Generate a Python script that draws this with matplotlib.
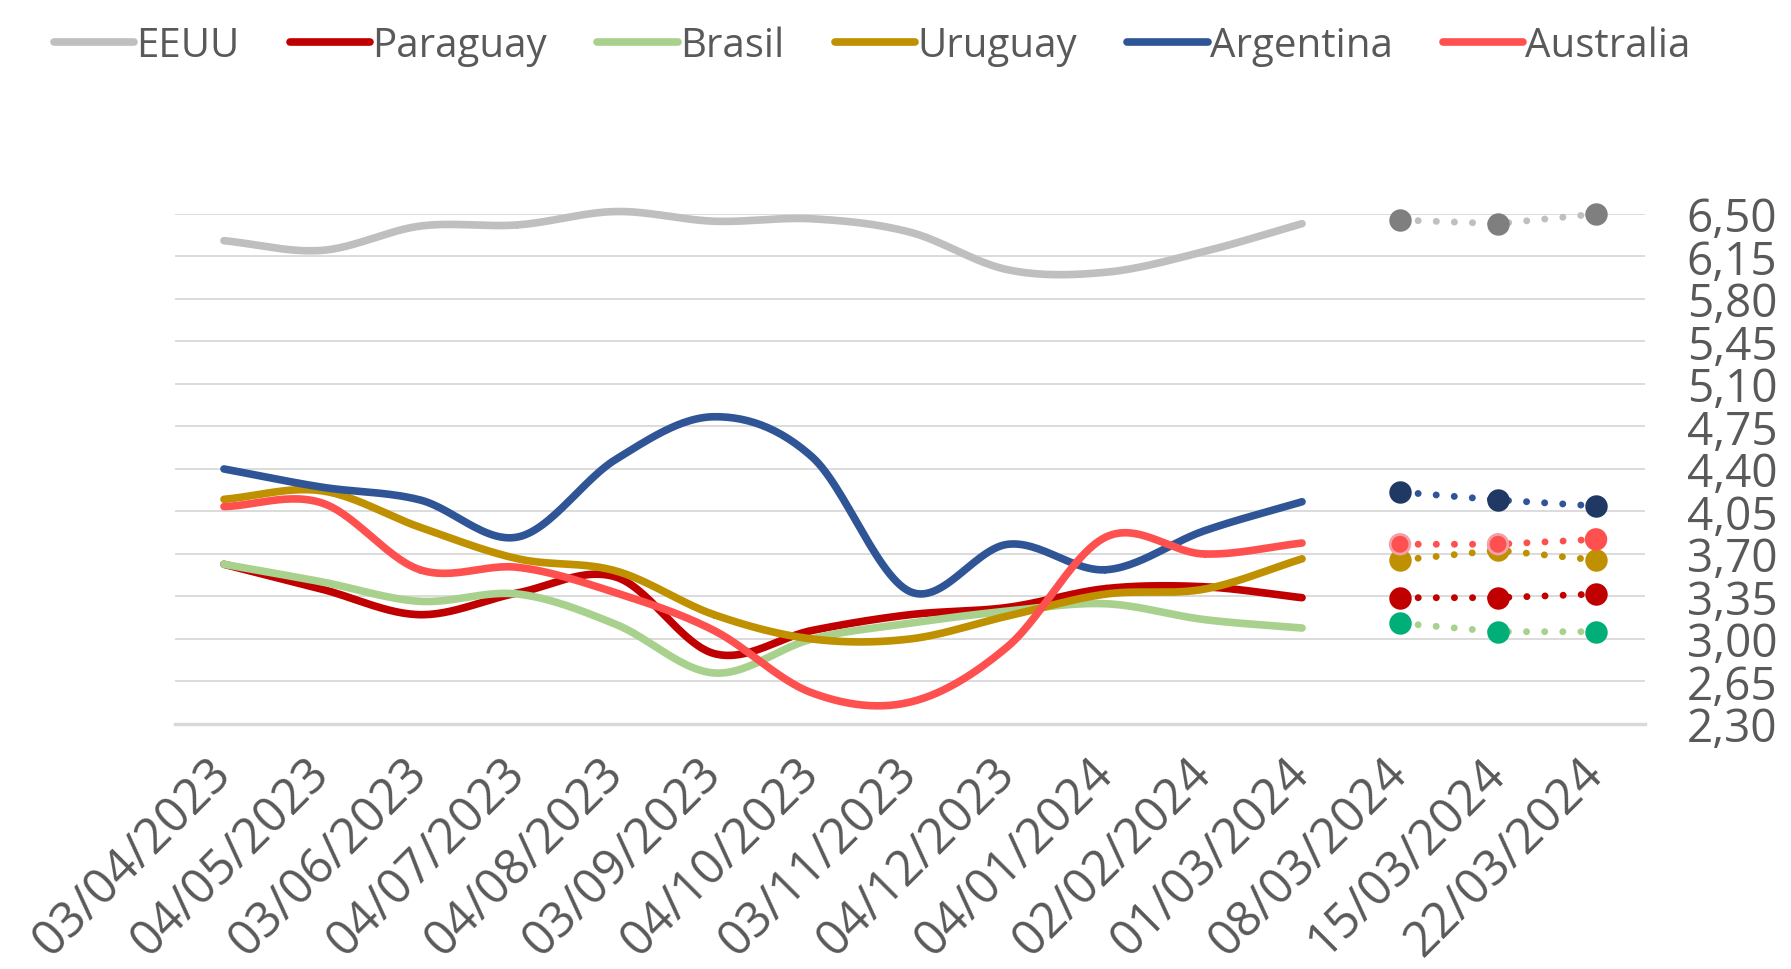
import numpy as np
import matplotlib
matplotlib.use("Agg")
import matplotlib.pyplot as plt

plt.rcParams['font.family'] = ['Open Sans', 'DejaVu Sans']

fechas = ["03/04/2023", "04/05/2023", "03/06/2023", "04/07/2023", "04/08/2023",
          "03/09/2023", "04/10/2023", "03/11/2023", "04/12/2023", "04/01/2024",
          "02/02/2024", "01/03/2024", "08/03/2024", "15/03/2024", "22/03/2024"]

# monthly values (first 12 dates), then weekly values (last 3 dates)
eeuu_mes = [6.28, 6.20, 6.40, 6.41, 6.52, 6.44, 6.46, 6.35, 6.04, 6.02, 6.19, 6.42]
eeuu_sem = [6.45, 6.42, 6.50]
paraguay_mes = [3.615, 3.41, 3.20, 3.38, 3.51, 2.88, 3.07, 3.20, 3.26, 3.415, 3.43, 3.34]
paraguay_sem = [3.34, 3.34, 3.37]
brasil_mes = [3.615, 3.47, 3.31, 3.37, 3.12, 2.72, 3.00, 3.13, 3.23, 3.29, 3.16, 3.09]
brasil_sem = [3.13, 3.06, 3.06]
uruguay_mes = [4.15, 4.22, 3.92, 3.66, 3.56, 3.20, 3.00, 3.00, 3.19, 3.37, 3.41, 3.66]
uruguay_sem = [3.65, 3.73, 3.65]
argentina_mes = [4.40, 4.25, 4.145, 3.84, 4.48, 4.83, 4.50, 3.39, 3.78, 3.57, 3.89, 4.13]
argentina_sem = [4.21, 4.145, 4.095]
australia_mes = [4.09, 4.12, 3.57, 3.59, 3.38, 3.07, 2.556, 2.48, 2.94, 3.84, 3.70, 3.79]
australia_sem = [3.78, 3.78, 3.82]

yticks = [2.30, 2.65, 3.00, 3.35, 3.70, 4.05, 4.40, 4.75, 5.10, 5.45, 5.80, 6.15, 6.50]

series = [
    ("EEUU", eeuu_mes, eeuu_sem, "#BFBFBF", "#7F7F7F", "#7F7F7F"),
    ("Paraguay", paraguay_mes, paraguay_sem, "#C00000", "#C00000", "#C00000"),
    ("Brasil", brasil_mes, brasil_sem, "#A9D18E", "#00AF78", "#00AF78"),
    ("Uruguay", uruguay_mes, uruguay_sem, "#BF9000", "#BF9000", "#BF9000"),
    ("Argentina", argentina_mes, argentina_sem, "#2F5597", "#203864", "#203864"),
    ("Australia", australia_mes, australia_sem, "#FF5050", "#FF5050", "#F2A0AA"),
]


def suavizar(x, y, n=30):
    # catmull-rom, similar to excel smoothed line
    x = np.asarray(x, float)
    y = np.asarray(y, float)
    px = np.concatenate([[2 * x[0] - x[1]], x, [2 * x[-1] - x[-2]]])
    py = np.concatenate([[2 * y[0] - y[1]], y, [2 * y[-1] - y[-2]]])
    xs, ys = [], []
    t = np.linspace(0, 1, n)
    for i in range(1, len(px) - 2):
        for p, out in ((px, xs), (py, ys)):
            p0, p1, p2, p3 = p[i - 1], p[i], p[i + 1], p[i + 2]
            out.append(0.5 * ((2 * p1) + (-p0 + p2) * t
                              + (2 * p0 - 5 * p1 + 4 * p2 - p3) * t ** 2
                              + (-p0 + 3 * p1 - 3 * p2 + p3) * t ** 3))
    return np.concatenate(xs), np.concatenate(ys)


fig = plt.figure(figsize=(17.91, 9.70), dpi=100)
ax = fig.add_axes([0.0977, 0.2526, 0.8208, 0.5258])

x_mes = np.arange(12)
x_sem = np.arange(12, 15)

for nombre, mes, sem, color, mcolor, medge in series:
    sx, sy = suavizar(x_mes, mes)
    ax.plot(sx, sy, color=color, lw=5.5, solid_capstyle="round", label=nombre,
            clip_on=False, zorder=3)
    ax.plot(x_sem, sem, color=color, lw=5, linestyle=(0, (0.01, 2.6)),
            dash_capstyle="round", clip_on=False, zorder=3)
    edges = [medge, medge, mcolor] if nombre == "Australia" else mcolor
    ax.scatter(x_sem, sem, s=200, color=mcolor, edgecolors=edges, linewidths=2,
               clip_on=False, zorder=4)

ax.set_xlim(-0.5, 14.5)
ax.set_ylim(2.30, 6.50)
ax.set_yticks(yticks)
ax.set_yticklabels([f"{v:.2f}".replace(".", ",") for v in yticks])
ax.yaxis.tick_right()
ax.grid(axis="y", color="#D9D9D9", lw=1.3, zorder=0)
ax.set_axisbelow(True)
for s in ["top", "left", "right"]:
    ax.spines[s].set_visible(False)
ax.spines["bottom"].set_color("#D9D9D9")
ax.spines["bottom"].set_linewidth(2.5)

ax.set_xticks(np.arange(len(fechas)))
ax.set_xticklabels(fechas, rotation=45, ha="right", va="center",
                   rotation_mode="anchor")
ax.tick_params(axis="x", length=0, pad=30, labelsize=35, labelcolor="#595959")
ax.tick_params(axis="y", length=0, pad=30, labelsize=33, labelcolor="#595959")

fig.legend(loc="upper center", bbox_to_anchor=(0.487, 1.01), ncol=6, frameon=False,
           fontsize=29, labelcolor="#595959", handlelength=2.0,
           handletextpad=0.05, columnspacing=1.25)

fig.savefig("out.png", dpi=100)
